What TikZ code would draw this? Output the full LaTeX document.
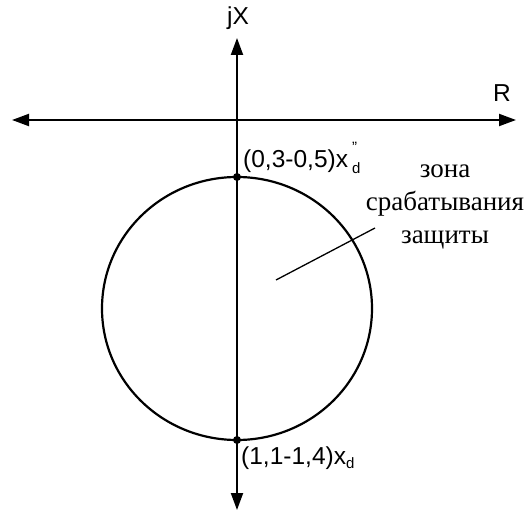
\documentclass[tikz,border=0pt]{standalone}
\usepackage{fontspec}
\setmainfont{Liberation Sans}
\newfontfamily\zonefont{Liberation Serif}
\usetikzlibrary{arrows.meta}

\tikzset{
  axarr/.style={-{Triangle[length=17pt,width=12pt]}, line width=2pt},
  circline/.style={line width=2.2pt},
  dotpt/.style={circle, fill=black, inner sep=0pt, minimum size=8pt},
  axlab/.style={font=\fontsize{24.5}{26}\selectfont, inner sep=0pt},
  zonelab/.style={font=\zonefont\fontsize{27}{33}\selectfont, align=center, inner sep=0pt}
}

\begin{document}
\begin{tikzpicture}[x=1pt,y=-1pt]
  \useasboundingbox (0,0) rectangle (528,513);

  % axes
  \coordinate (ctr) at (237,120);
  \coordinate (xl) at (12,120);
  \coordinate (xr) at (516,120);
  \coordinate (yt) at (237,38);
  \coordinate (yb) at (237,510);
  \draw[axarr] (ctr) -- (xl);
  \draw[axarr] (ctr) -- (xr);
  \draw[axarr] (ctr) -- (yt);
  \draw[axarr] (ctr) -- (yb);
  \node[axlab] (jx) at (238,18) {jX};
  \node[axlab] (rlab) at (502,93) {R};

  % zone circle
  \draw[circline] (237,308.5) ellipse [x radius=135, y radius=131.5];
  \node[dotpt] (ptop) at (237,177) {};
  \node[dotpt] (pbot) at (237,440) {};
  \node[axlab, anchor=base west] (ltop) at (243,168)
    {(0,3-0,5)x\kern4pt\raisebox{-6pt}{\fontsize{15}{15}\selectfont\shortstack[l]{"\\[8pt]d}}};
  \node[axlab, anchor=base west] (lbot) at (241,464)
    {(1,1-1,4)x\raisebox{-5pt}{\fontsize{15}{15}\selectfont d}};

  % label of the zone
  \node[zonelab] (zone) at (445,207) {зона\\срабатывания\\защиты};
  \coordinate (lead) at (276,280);
  \coordinate (leadend) at (375,228);
  \draw[line width=1.3pt] (lead) -- (leadend);
\end{tikzpicture}
\end{document}
